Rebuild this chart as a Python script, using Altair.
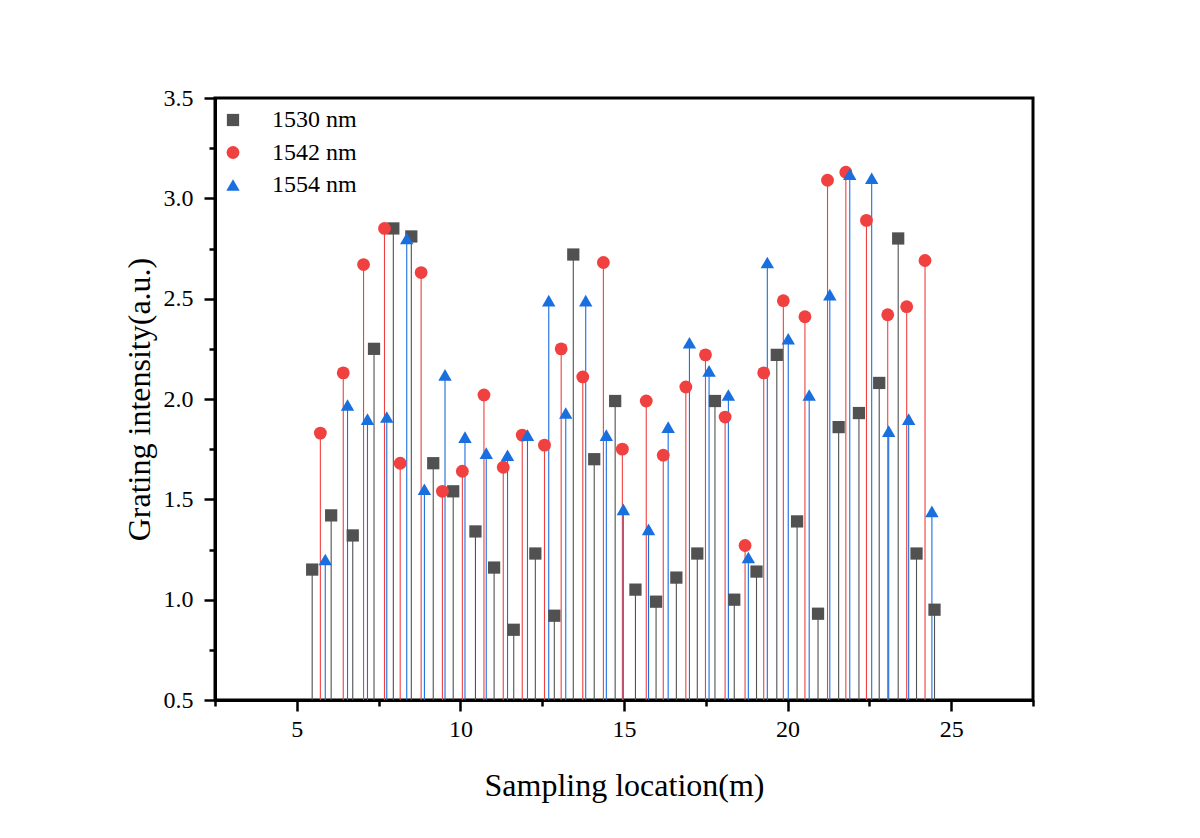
import altair as alt
import pandas as pd

series_names = ["1530 nm", "1542 nm", "1554 nm"]
series_colors = ["#515151", "#F14040", "#1A6FDF"]
series_shapes = ["square", "circle", "triangle-up"]

x_1530 = [5.47, 6.05, 6.71, 7.36, 7.95, 8.50, 9.17, 9.78, 10.46, 11.03, 11.63, 12.29,
          12.87, 13.45, 14.09, 14.73, 15.35, 15.98, 16.60, 17.24, 17.78, 18.37, 19.05,
          19.67, 20.29, 20.93, 21.56, 22.18, 22.80, 23.38, 23.94, 24.49]
y_1530 = [1.15, 1.42, 1.32, 2.25, 2.85, 2.81, 1.68, 1.54, 1.34, 1.16, 0.85, 1.23,
          0.92, 2.72, 1.70, 1.99, 1.05, 0.99, 1.11, 1.23, 1.99, 1.00, 1.14,
          2.22, 1.39, 0.93, 1.86, 1.93, 2.08, 2.80, 1.23, 0.95]

x_1542 = [5.72, 6.42, 7.04, 7.68, 8.16, 8.80, 9.45, 10.06, 10.72, 11.31, 11.89, 12.57,
          13.08, 13.74, 14.37, 14.95, 15.68, 16.20, 16.89, 17.49, 18.09, 18.70, 19.27,
          19.87, 20.53, 21.22, 21.78, 22.41, 23.06, 23.64, 24.20]
y_1542 = [1.83, 2.13, 2.67, 2.85, 1.68, 2.63, 1.54, 1.64, 2.02, 1.66, 1.82, 1.77,
          2.25, 2.11, 2.68, 1.75, 1.99, 1.72, 2.06, 2.22, 1.91, 1.27, 2.13,
          2.49, 2.41, 3.09, 3.13, 2.89, 2.42, 2.46, 2.69]

x_1554 = [5.87, 6.55, 7.16, 7.75, 8.36, 8.90, 9.53, 10.14, 10.79, 11.44, 12.05, 12.70,
          13.22, 13.83, 14.46, 14.98, 15.75, 16.35, 17.00, 17.60, 18.19, 18.80, 19.38,
          20.02, 20.66, 21.29, 21.90, 22.57, 23.09, 23.70, 24.41]
y_1554 = [1.20, 1.97, 1.90, 1.91, 2.80, 1.55, 2.12, 1.81, 1.73, 1.72, 1.82, 2.49,
          1.93, 2.49, 1.82, 1.45, 1.35, 1.86, 2.28, 2.14, 2.02, 1.21, 2.68,
          2.30, 2.02, 2.52, 3.12, 3.10, 1.84, 1.90, 1.44]

x_ticks = [2.5, 5, 7.5, 10, 12.5, 15, 17.5, 20, 22.5, 25, 27.5]
y_ticks = [0.5, 0.75, 1.0, 1.25, 1.5, 1.75, 2.0, 2.25, 2.5, 2.75, 3.0, 3.25, 3.5]

rows = []
for name, xs, ys in zip(series_names, [x_1530, x_1542, x_1554], [y_1530, y_1542, y_1554]):
    for xv, yv in zip(xs, ys):
        rows.append({"loc": xv, "val": yv, "series": name})
df = pd.DataFrame(rows)

FONT = "Liberation Serif"

x_enc = alt.X("loc:Q",
              scale=alt.Scale(domain=[2.5, 27.5], nice=False, zero=False),
              axis=alt.Axis(values=x_ticks, title="Sampling location(m)",
                            labelExpr="datum.value % 5 === 0 ? datum.label : ''",
                            tickSize={"condition": {"test": "datum.value % 5 === 0", "value": 11}, "value": 6},
                            titleBaseline="alphabetic", titleY=95, titleX=409,
                            labelPadding=6))
y_enc = alt.Y("val:Q",
              scale=alt.Scale(domain=[0.5, 3.5], nice=False, zero=False),
              axis=alt.Axis(values=y_ticks, title="Grating intensity(a.u.)",
                            labelExpr="round(datum.value*100) % 50 === 0 ? format(datum.value, '.1f') : ''",
                            tickSize={"condition": {"test": "round(datum.value*100) % 50 === 0", "value": 11}, "value": 6},
                            titleBaseline="middle", titleX=-76, titleY=301, titleAngle=-90,
                            labelPadding=11))

base = alt.Chart(df)

stems = base.mark_rule(strokeWidth=1.1).encode(
    x=x_enc,
    y=y_enc,
    y2=alt.datum(0.5),
    color=alt.Color("series:N", scale=alt.Scale(domain=series_names, range=series_colors)),
)

points = base.mark_point(filled=True, opacity=1, strokeWidth=0).encode(
    x=x_enc,
    y=y_enc,
    color=alt.Color("series:N", scale=alt.Scale(domain=series_names, range=series_colors)),
    shape=alt.Shape("series:N", scale=alt.Scale(domain=series_names, range=series_shapes)),
    size=alt.Size("series:N", scale=alt.Scale(domain=series_names, range=[150, 180, 250])),
)

chart = alt.layer(stems, points).properties(
    width=818, height=602,
    background="white",
    autosize=alt.AutoSizeParams(type="none"),
    padding={"left": 207, "top": 90, "right": 150, "bottom": 120},
).configure_axis(
    labelFont=FONT, titleFont=FONT, labelFontSize=24, titleFontSize=32,
    labelColor="black", titleColor="black", titleFontWeight="normal",
    domainColor="black", domainWidth=3, tickColor="black", tickWidth=2.5,
    grid=False,
).configure_legend(
    orient="none", legendX=6, legendY=10, title=None,
    labelFontSize=24, labelFont=FONT, labelColor="black",
    symbolStrokeWidth=0, labelOffset=27, rowPadding=8.5, padding=0,
    symbolType="circle",
).configure_view(
    stroke="black", strokeWidth=3,
)

chart.save("out.html", embed_options={"renderer": "svg", "actions": False})
